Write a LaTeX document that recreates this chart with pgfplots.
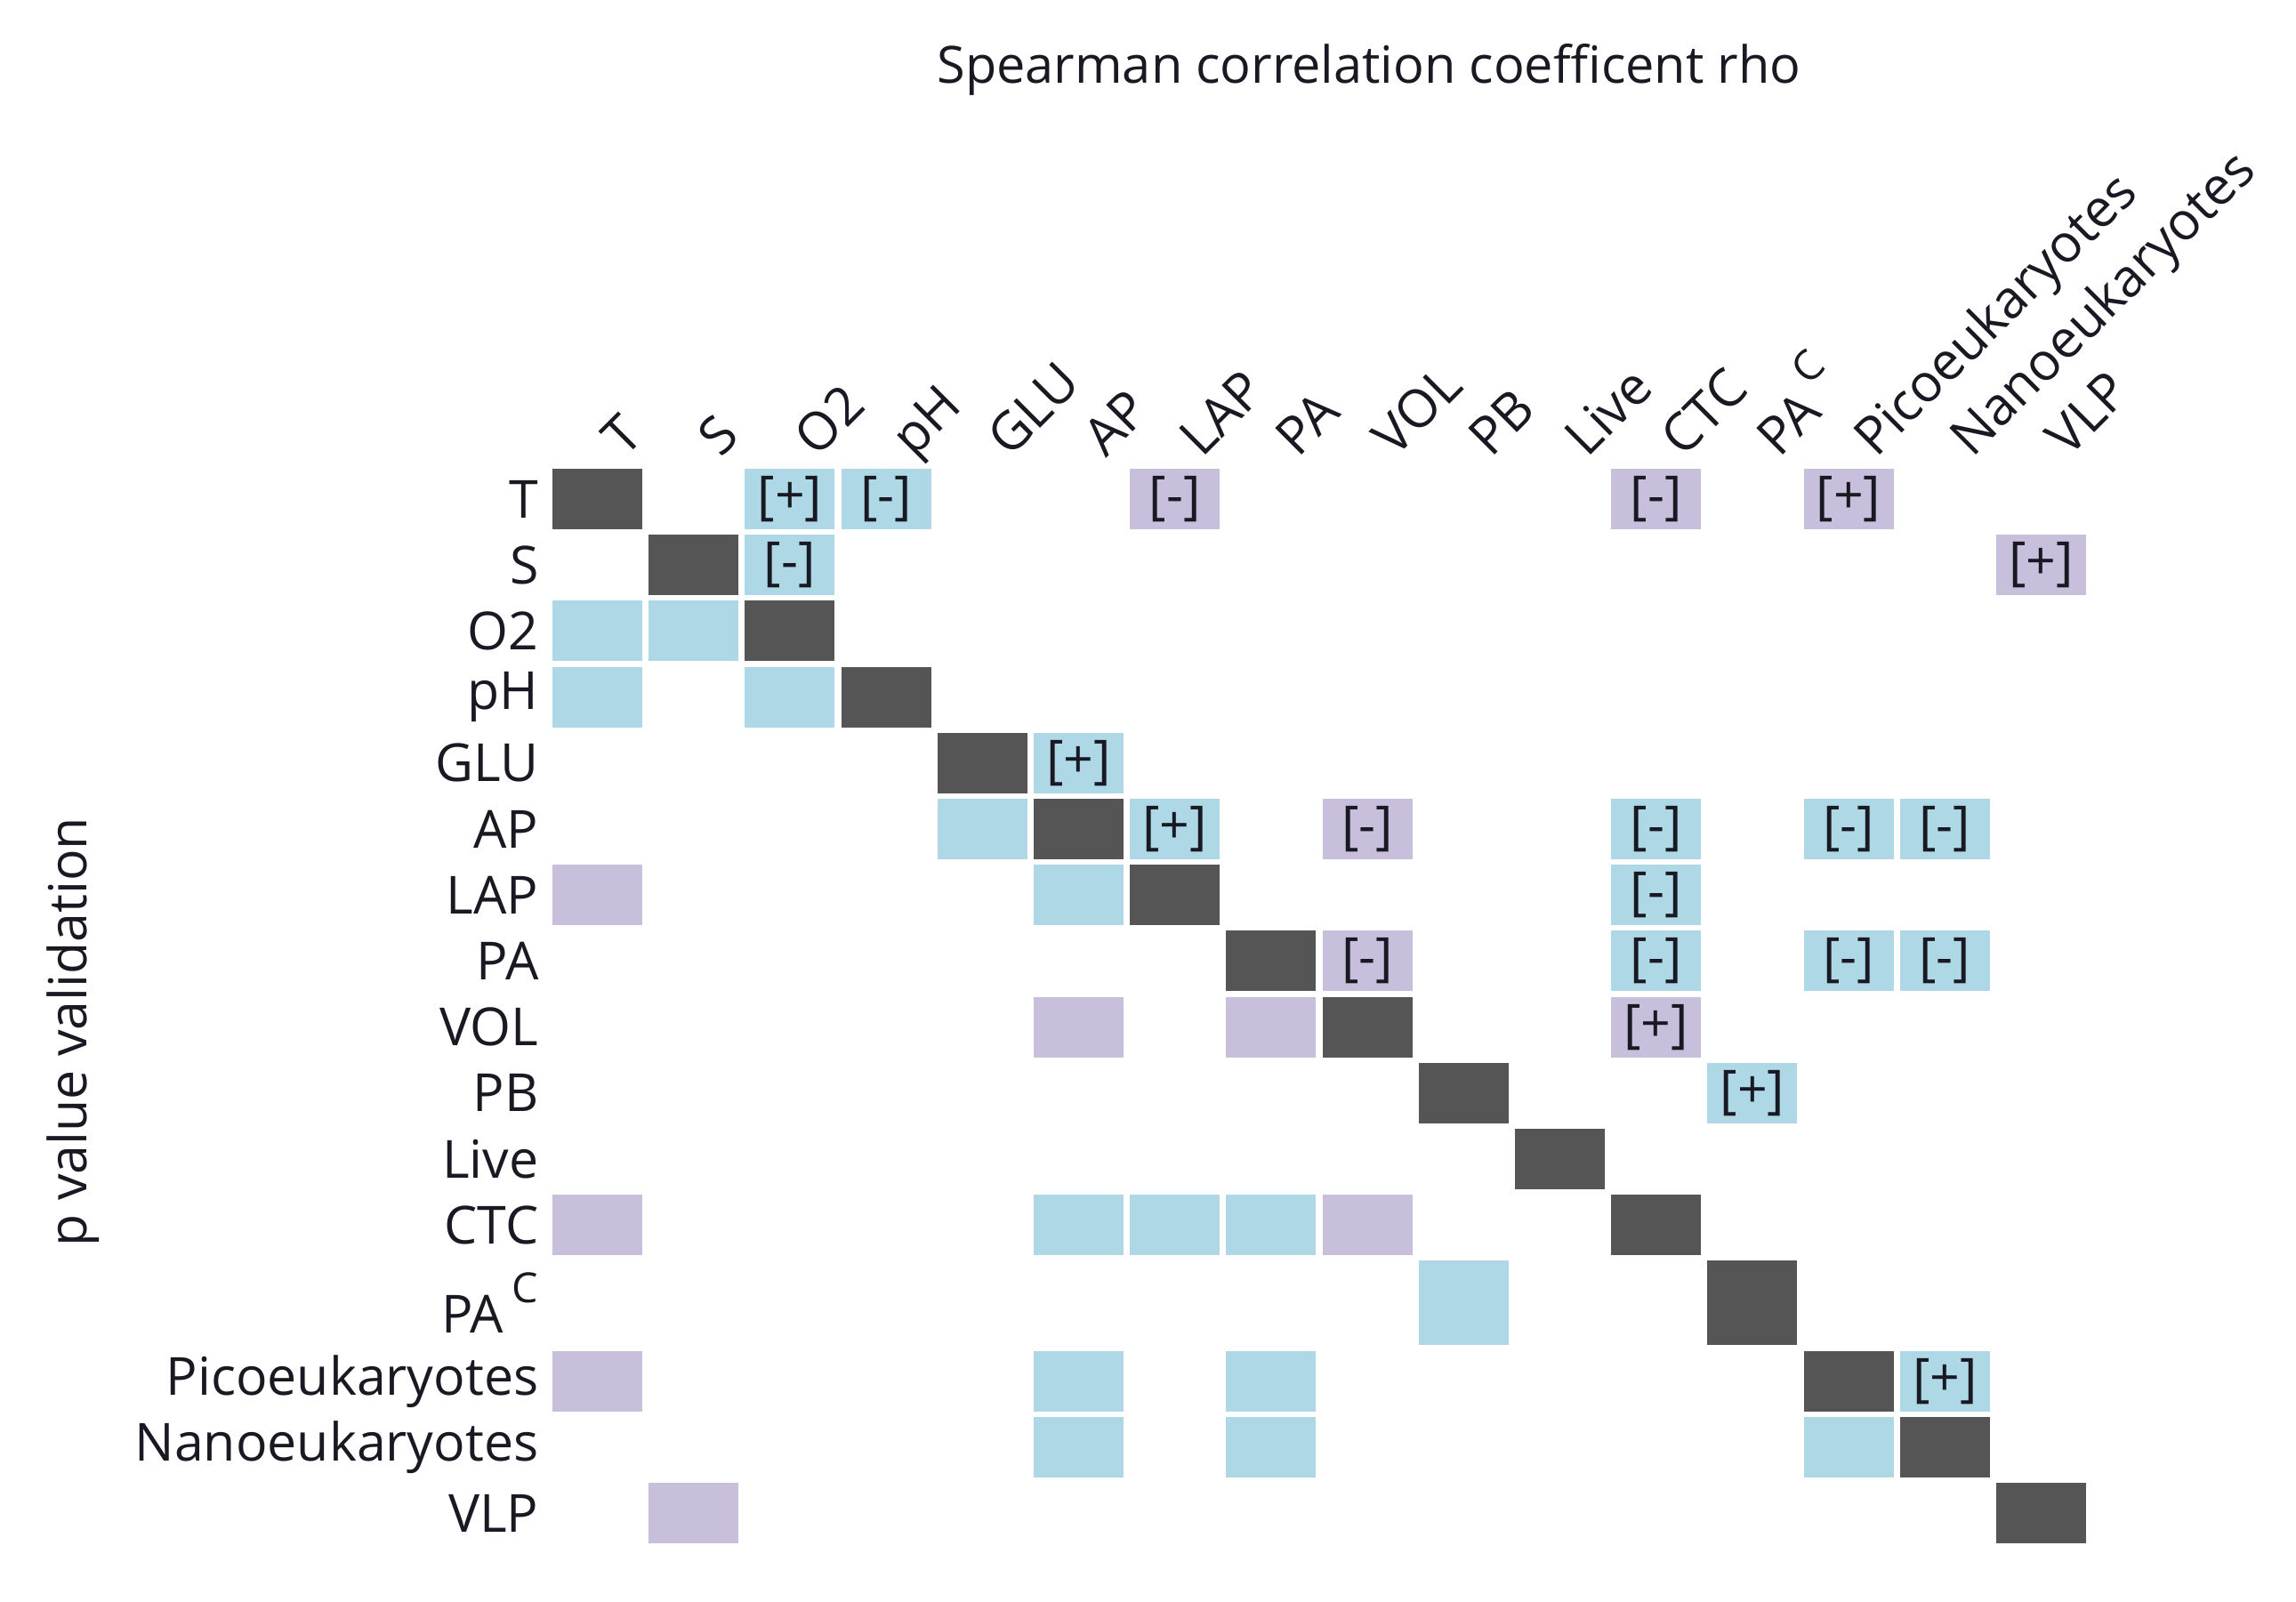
\documentclass[border=0pt]{standalone}
\usepackage{fontspec}
\setmainfont{Open Sans}
\usepackage{pgfplots}
\pgfplotsset{compat=1.18}
\definecolor{cdark}{RGB}{85,85,85}
\definecolor{cblue}{RGB}{174,216,229}
\definecolor{cpurp}{RGB}{200,191,220}
\definecolor{ctext}{RGB}{25,25,35}
\pgfdeclareplotmark{cell}{\pgfpathrectangle{\pgfpoint{-15.15bp}{-10.2bp}}{\pgfpoint{30.3bp}{20.4bp}}\pgfusepathqfill}
\pgfdeclareplotmark{tallcell}{\pgfpathrectangle{\pgfpoint{-15.15bp}{-14.25bp}}{\pgfpoint{30.3bp}{28.5bp}}\pgfusepathqfill}
\newcommand\PAC{PA\,\raisebox{0.58em}{\fontsize{14bp}{14bp}\selectfont C}}
\pgfplotsset{
  cellplot/.style={only marks, mark=cell, color=#1, mark options={fill=#1, draw=none}},
  tallplot/.style={only marks, mark=tallcell, color=#1, mark options={fill=#1, draw=none}},
  lab/.style={nodes near coords={#1}, every node near coord/.append style={anchor=center, text=ctext, inner sep=0pt}},
}
\begin{document}
\fontsize{17.7bp}{21bp}\selectfont
\begin{tikzpicture}
\useasboundingbox (-185.22bp,-18.75bp) rectangle (589.08bp,521.55bp);
\begin{axis}[
  at={(0,0)}, anchor=south west,
  scale only axis,
  width=519.36bp, height=364.38bp,
  xmin=-0.5, xmax=15.5, ymin=-0.5, ymax=15.869,
  y dir=reverse,
  axis line style={draw=none},
  major tick length=0pt,
  tick style={draw=none},
  xticklabel pos=right,
  xtick={0,...,15},
  xticklabels={T,S,O2,pH,GLU,AP,LAP,PA,VOL,PB,Live,CTC,\PAC,Picoeukaryotes,Nanoeukaryotes,VLP},
  ytick={0,1,2,3,4,5,6,7,8,9,10,11,12.177,13.369,14.369,15.369},
  yticklabels={T,S,O2,pH,GLU,AP,LAP,PA,VOL,PB,Live,CTC,\PAC,Picoeukaryotes,Nanoeukaryotes,VLP},
  yticklabel style={anchor=east, inner sep=0pt, xshift=-3.4bp, text=ctext},
  xticklabel style={inner sep=0pt, xshift=9.15bp, yshift=2.4bp, rotate=45, anchor=base west, text=ctext},
  ylabel={p value validation},
  ylabel style={at={(axis description cs:-0.3093,0.4763)}, anchor=center, text=ctext},
  clip=false,
]
% diagonal
\addplot[cellplot=cdark] coordinates {(0,0)(1,1)(2,2)(3,3)(4,4)(5,5)(6,6)(7,7)(8,8)(9,9)(10,10)(11,11)(13,13.369)(14,14.369)(15,15.369)};
\addplot[tallplot=cdark] coordinates {(12,12.177)};
% blue, no sign
\addplot[cellplot=cblue] coordinates {(0,2)(1,2)(0,3)(2,3)(4,5)(5,6)(5,11)(6,11)(7,11)(5,13.369)(7,13.369)(5,14.369)(7,14.369)(13,14.369)};
\addplot[tallplot=cblue] coordinates {(9,12.177)};
% blue [+]
\addplot[cellplot=cblue, lab={[+]}] coordinates {(2,0)(5,4)(6,5)(12,9)(14,13.369)};
% blue [-]
\addplot[cellplot=cblue, lab={[-]}] coordinates {(3,0)(2,1)(11,5)(13,5)(14,5)(11,6)(11,7)(13,7)(14,7)};
% purple, no sign
\addplot[cellplot=cpurp] coordinates {(0,6)(5,8)(7,8)(0,11)(8,11)(0,13.369)(1,15.369)};
% purple [+]
\addplot[cellplot=cpurp, lab={[+]}] coordinates {(13,0)(15,1)(11,8)};
% purple [-]
\addplot[cellplot=cpurp, lab={[-]}] coordinates {(6,0)(11,0)(8,5)(8,7)};
\node[anchor=base, text=ctext, font=\fontsize{17.3bp}{21bp}\selectfont] at (axis description cs:0.5323,1.3541) {Spearman correlation coefficent rho};
\end{axis}
\end{tikzpicture}
\end{document}
